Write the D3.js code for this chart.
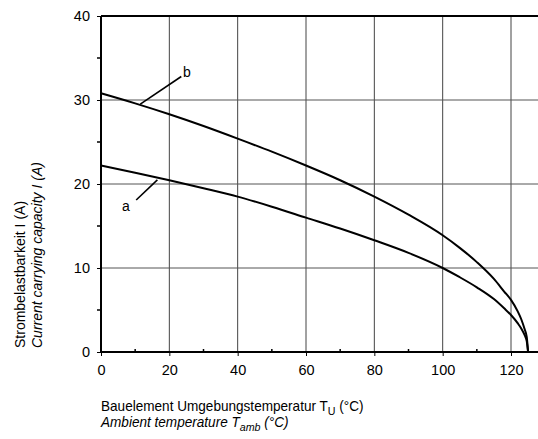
<!DOCTYPE html>
<html>
<head>
<meta charset="utf-8">
<script src="https://cdn.jsdelivr.net/npm/d3@7"></script>
<style>
  body { margin: 0; background: #fff; }
  svg { display: block; }
  text { font-family: "Liberation Sans", Arial, sans-serif; }
  .narrow { font-family: "Liberation Sans Narrow", "Liberation Sans", sans-serif; }
</style>
</head>
<body>
<svg id="chart" width="538" height="439"></svg>
<script>
// ambient temperature (°C)
const temps = [0, 10, 20, 30, 40, 50, 60, 70, 80, 90, 100, 105, 110, 115, 118, 120, 122, 123, 124, 124.6, 125]
// curve b (A)
const curveB = [30.8, 29.6, 28.3, 26.9, 25.4, 23.85, 22.2, 20.45, 18.5, 16.35, 13.9, 12.4, 10.7, 8.7, 7.2, 6.2, 4.8, 3.9, 2.7, 1.8, 0]
// curve a (A)
const curveA = [22.2, 21.35, 20.45, 19.5, 18.5, 17.3, 16.0, 14.7, 13.3, 11.8, 10.0, 8.9, 7.7, 6.3, 5.2, 4.4, 3.4, 2.8, 2.0, 1.3, 0]

const xTicks = [0, 20, 40, 60, 80, 100, 120]
const xMinor = [10, 30, 50, 70, 90, 110]
const yTicks = [0, 10, 20, 30, 40]
const yMinor = [5, 15, 25, 35]

let svg = d3.select('#chart')
let pLeft = 101, pRight = 538, pTop = 16, pBottom = 352

let x = d3.scaleLinear().domain([0, 127.9]).range([pLeft, pRight])
let y = d3.scaleLinear().domain([0, 40]).range([pBottom, pTop])

// grid
svg.append('g').selectAll('line').data(xTicks.filter(d => d > 0))
    .enter().append('line')
    .attr('x1', d => x(d)).attr('x2', d => x(d))
    .attr('y1', pTop).attr('y2', pBottom)
    .attr('stroke', '#444').attr('stroke-width', 1)
svg.append('g').selectAll('line').data(yTicks.filter(d => d > 0 && d < 40))
    .enter().append('line')
    .attr('x1', pLeft).attr('x2', pRight)
    .attr('y1', d => y(d)).attr('y2', d => y(d))
    .attr('stroke', '#555').attr('stroke-width', 1)

// top border
svg.append('line')
    .attr('x1', pLeft).attr('x2', pRight)
    .attr('y1', y(40)).attr('y2', y(40))
    .attr('stroke', '#000').attr('stroke-width', 2)

// x axis
let xAxis = d3.axisBottom(x).tickValues(xTicks).tickSize(4).tickPadding(9)
let gx = svg.append('g').attr('transform', 'translate(0,' + pBottom + ')').call(xAxis)
gx.select('.domain').attr('d', 'M' + pLeft + ',0H' + pRight).attr('stroke-width', 2)
gx.selectAll('text').style('font-size', '14.5px').attr('fill', '#000')
svg.append('g').selectAll('line').data(xMinor)
    .enter().append('line')
    .attr('x1', d => x(d)).attr('x2', d => x(d))
    .attr('y1', pBottom - 3).attr('y2', pBottom)
    .attr('stroke', '#000').attr('stroke-width', 1.5)

// y axis
let yAxis = d3.axisLeft(y).tickValues(yTicks).tickSize(4).tickPadding(7)
let gy = svg.append('g').attr('transform', 'translate(' + pLeft + ',0)').call(yAxis)
gy.select('.domain').attr('d', 'M0,' + pBottom + 'V' + pTop).attr('stroke-width', 2)
gy.selectAll('text').style('font-size', '14.5px').attr('fill', '#000')
svg.append('g').selectAll('line').data(yMinor)
    .enter().append('line')
    .attr('x1', pLeft - 4).attr('x2', pLeft)
    .attr('y1', d => y(d)).attr('y2', d => y(d))
    .attr('stroke', '#000').attr('stroke-width', 1.5)

// curves
let line = d3.line().x(d => x(d[0])).y(d => y(d[1])).curve(d3.curveMonotoneX)
;[curveA, curveB].forEach(function (vals) {
    svg.append('path')
        .attr('d', line(temps.map((t, i) => [t, vals[i]])))
        .attr('fill', 'none').attr('stroke', '#000').attr('stroke-width', 2)
})

// curve labels with leader lines
svg.append('line').attr('x1', x(11.5)).attr('y1', y(29.5)).attr('x2', x(23.5)).attr('y2', y(32.8))
    .attr('stroke', '#000').attr('stroke-width', 1.6)
svg.append('text').attr('x', 187).attr('y', 77).attr('text-anchor', 'middle')
    .style('font-size', '14px').text('b')
svg.append('line').attr('x1', x(10.3)).attr('y1', y(18.1)).attr('x2', x(16.5)).attr('y2', y(20.5))
    .attr('stroke', '#000').attr('stroke-width', 1.6)
svg.append('text').attr('x', 126).attr('y', 211).attr('text-anchor', 'middle')
    .style('font-size', '14px').text('a')

// x title (slightly condensed like the original)
let xg = svg.append('g').attr('transform', 'translate(101,0) scale(0.97,1)')
let xt = xg.append('text').attr('class', 'narrow').attr('x', 0).attr('y', 411).style('font-size', '14px')
xt.append('tspan').text('Bauelement Umgebungstemperatur T')
xt.append('tspan').attr('dy', 4).style('font-size', '11px').text('U')
xt.append('tspan').attr('dy', -4).text(' (°C)')
let xt2 = xg.append('text').attr('class', 'narrow').attr('x', 0).attr('y', 427)
    .style('font-size', '14px').style('font-style', 'italic')
xt2.append('tspan').text('Ambient temperature T')
xt2.append('tspan').attr('dy', 4).style('font-size', '11px').text('amb')
xt2.append('tspan').attr('dy', -4).text(' (°C)')

// y title
svg.append('text').attr('class', 'narrow')
    .attr('transform', 'translate(25,348) rotate(-90)')
    .style('font-size', '14px').text('Strombelastbarkeit I (A)')
svg.append('text').attr('class', 'narrow')
    .attr('transform', 'translate(42,348) rotate(-90)')
    .style('font-size', '14px').style('font-style', 'italic').text('Current carrying capacity I (A)')
</script>
</body>
</html>
